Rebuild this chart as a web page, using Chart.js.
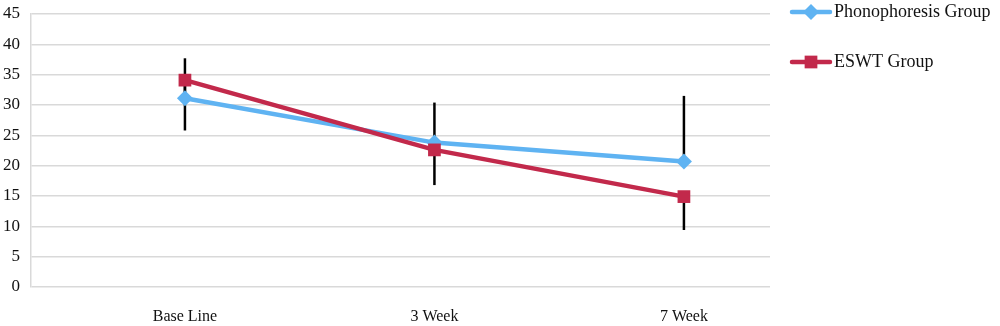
<!DOCTYPE html>
<html>
<head>
<meta charset="utf-8">
<script src="https://cdn.jsdelivr.net/npm/chart.js@4.4.1/dist/chart.umd.min.js"></script>
<style>
html,body{margin:0;padding:0;background:#fff;}
#wrap{position:relative;width:1000px;height:326px;}
</style>
</head>
<body>
<div id="wrap"><canvas id="c" width="1000" height="326"></canvas></div>
<script>
const categories = ["Base Line", "3 Week", "7 Week"];
const phonoValues = [31.1, 23.8, 20.7];
const eswtValues = [34.1, 22.6, 14.9];
const phonoErrPlus = [6.6, 6.6, 10.8];
const eswtErrMinus = [8.3, 5.8, 5.5];
const yTicks = [0, 5, 10, 15, 20, 25, 30, 35, 40, 45];
const seriesNames = ["Phonophoresis Group", "ESWT Group"];

const BLUE = "#5fb3f2";
const RED = "#c2294b";
const FONT = "'Liberation Serif', serif";

const toPts = arr => arr.map((v, i) => ({x: i, y: v}));

const errorBars = {
  id: "errorBars",
  beforeDatasetsDraw(chart) {
    const {ctx, scales: {x, y}} = chart;
    ctx.save();
    ctx.strokeStyle = "#000";
    ctx.lineWidth = 2.5;
    const draw = (vals, errs, sign) => {
      vals.forEach((v, i) => {
        const px = x.getPixelForValue(i);
        ctx.beginPath();
        ctx.moveTo(px, y.getPixelForValue(v));
        ctx.lineTo(px, y.getPixelForValue(v + sign * errs[i]));
        ctx.stroke();
      });
    };
    draw(phonoValues, phonoErrPlus, 1);
    draw(eswtValues, eswtErrMinus, -1);
    ctx.restore();
  }
};

const customLegend = {
  id: "customLegend",
  afterDraw(chart) {
    const {ctx} = chart;
    const items = [
      {name: seriesNames[0], color: BLUE, style: "rectRot", r: 8, y: 12},
      {name: seriesNames[1], color: RED, style: "rect", r: 9, y: 62}
    ];
    ctx.save();
    items.forEach(it => {
      ctx.strokeStyle = it.color;
      ctx.lineWidth = 4.5;
      ctx.lineCap = "round";
      ctx.beginPath();
      ctx.moveTo(792, it.y);
      ctx.lineTo(830, it.y);
      ctx.stroke();
      ctx.fillStyle = it.color;
      ctx.strokeStyle = it.color;
      Chart.helpers.drawPoint(ctx, {pointStyle: it.style, radius: it.r, borderWidth: 0}, 811, it.y);
      ctx.fillStyle = "#111";
      ctx.font = "18px " + FONT;
      ctx.textBaseline = "middle";
      ctx.textAlign = "left";
      ctx.fillText(it.name, 834, it.y);
    });
    ctx.restore();
  }
};

new Chart(document.getElementById("c"), {
  type: "line",
  data: {
    datasets: [
      {
        label: seriesNames[0],
        data: toPts(phonoValues),
        borderColor: BLUE,
        backgroundColor: BLUE,
        borderWidth: 4.5,
        pointStyle: "rectRot",
        pointRadius: 8,
        pointBorderWidth: 0,
        tension: 0,
        order: 1
      },
      {
        label: seriesNames[1],
        data: toPts(eswtValues),
        borderColor: RED,
        backgroundColor: RED,
        borderWidth: 4.5,
        pointStyle: "rect",
        pointRadius: 9,
        pointBorderWidth: 0,
        tension: 0,
        order: 0
      }
    ]
  },
  options: {
    responsive: false,
    animation: false,
    layout: {padding: {top: 14, right: 230, left: 0, bottom: 0}},
    plugins: {legend: {display: false}, tooltip: {enabled: false}},
    scales: {
      x: {
        type: "linear",
        min: -0.617,
        max: 2.345,
        afterBuildTicks: s => { s.ticks = categories.map((c, i) => ({value: i})); },
        afterFit: s => { s.height = 39; s.paddingLeft = 0; s.paddingRight = 0; },
        grid: {display: false},
        border: {display: false},
        ticks: {
          callback: v => categories[v],
          color: "#111",
          font: {family: FONT, size: 16},
          padding: 12,
          maxRotation: 0
        }
      },
      y: {
        min: 0,
        max: 45,
        afterBuildTicks: s => { s.ticks = yTicks.map(v => ({value: v})); },
        afterFit: s => { s.width = 31; s.paddingTop = 0; s.paddingBottom = 0; },
        grid: {color: "#d9d9d9", lineWidth: 1.5, drawTicks: false},
        border: {display: true, color: "#d9d9d9", width: 1.5},
        ticks: {
          color: "#111",
          font: {family: FONT, size: 17},
          padding: 11
        }
      }
    }
  },
  plugins: [errorBars, customLegend]
});
</script>
</body>
</html>
